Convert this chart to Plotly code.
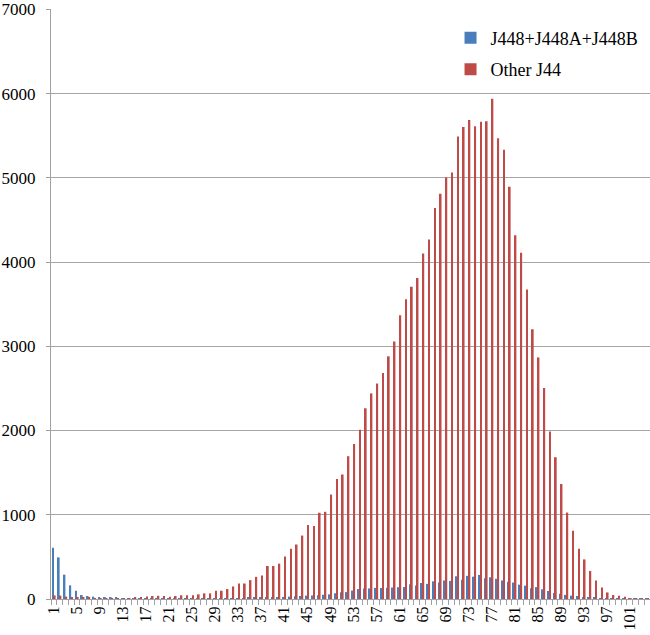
import plotly.graph_objects as go

categories = list(range(1, 105))

j448 = [609, 494, 289, 162, 99, 47, 36, 28, 20, 16,
        14, 12, 10, 8, 7, 6, 5, 5, 5, 5,
        5, 5, 5, 5, 6, 6, 7, 7, 8, 8,
        9, 10, 10, 11, 12, 13, 14, 16, 18, 20,
        25, 28, 32, 36, 40, 42, 45, 50, 55, 68,
        80, 82, 100, 118, 125, 125, 132, 130, 135, 136,
        140, 142, 175, 160, 190, 180, 210, 195, 220, 215,
        270, 230, 275, 265, 285, 245, 258, 240, 220, 205,
        195, 170, 158, 127, 141, 115, 95, 72, 62, 49,
        40, 35, 25, 20, 14, 10, 8, 6, 5, 3,
        2, 2, 1, 1]

other_j44 = [43, 40, 28, 22, 18, 14, 12, 10, 10, 9,
             10, 10, 8, 6, 14, 18, 30, 36, 38, 36,
             28, 36, 44, 44, 46, 55, 67, 67, 98, 98,
             118, 149, 184, 184, 224, 263, 278, 392, 392, 420,
             506, 596, 647, 753, 878, 867, 1024, 1035, 1240, 1425,
             1478, 1695, 1840, 2010, 2264, 2441, 2558, 2683, 2881, 3056,
             3368, 3559, 3707, 3810, 4102, 4267, 4643, 4810, 5004, 5063,
             5490, 5603, 5685, 5612, 5665, 5672, 5938, 5470, 5332, 4893,
             4318, 4110, 3675, 3202, 2868, 2505, 1988, 1683, 1365, 1026,
             811, 597, 470, 333, 220, 137, 78, 47, 39, 27,
             6, 5, 4, 4]

x_ticks = list(range(1, 105, 4))
y_ticks = [0, 1000, 2000, 3000, 4000, 5000, 6000, 7000]

fig = go.Figure()
fig.add_trace(go.Bar(x=categories, y=j448, name="J448+J448A+J448B",
                     marker=dict(color="#4A7EBB", line=dict(width=0)),
                     legendgroup="a"))
fig.add_trace(go.Bar(x=categories, y=other_j44, name="Other J44",
                     marker=dict(color="#BE4B48", line=dict(width=0)),
                     legendgroup="b"))

serif = "Liberation Serif"
fig.update_layout(
    width=650, height=635,
    margin=dict(l=51, r=0, t=9, b=36, autoexpand=False),
    paper_bgcolor="white", plot_bgcolor="white",
    barmode="group", bargap=0.4, bargroupgap=0,
    font=dict(family=serif, size=16, color="black"),
    showlegend=True,
    legend=dict(x=0.667, y=0.982, xanchor="left", yanchor="top",
                font=dict(family=serif, size=18, color="black"),
                bgcolor="rgba(0,0,0,0)", tracegroupgap=5,
                itemwidth=30),
    xaxis=dict(range=[0.5, 104.5], tickmode="array", tickvals=x_ticks,
               ticktext=[str(v) for v in x_ticks], tickangle=-90,
               ticks="", showgrid=False, showline=True, automargin=False,
               linecolor="#A0A0A0", linewidth=1, zeroline=False,
               ticklabeloverflow="allow",
               tickfont=dict(family=serif, size=16, color="black"),
               minor=dict(ticks="outside", tick0=0.5, dtick=1, ticklen=5,
                          tickcolor="#A0A0A0", showgrid=False)),
    yaxis=dict(range=[0, 7004], tickmode="array", tickvals=y_ticks,
               showgrid=True, gridcolor="#A6A6A6", gridwidth=1,
               showline=True, linecolor="#A0A0A0", linewidth=1,
               ticks="outside", ticklen=4, tickcolor="#A0A0A0",
               zeroline=False, ticklabeloverflow="allow", automargin=False,
               ticklabelstandoff=7,
               tickfont=dict(family=serif, size=17, color="black")),
)

fig.write_html(
    "out.html",
    config={"displayModeBar": False},
    post_script="document.body.style.margin='0';document.body.style.overflow='hidden';",
)
